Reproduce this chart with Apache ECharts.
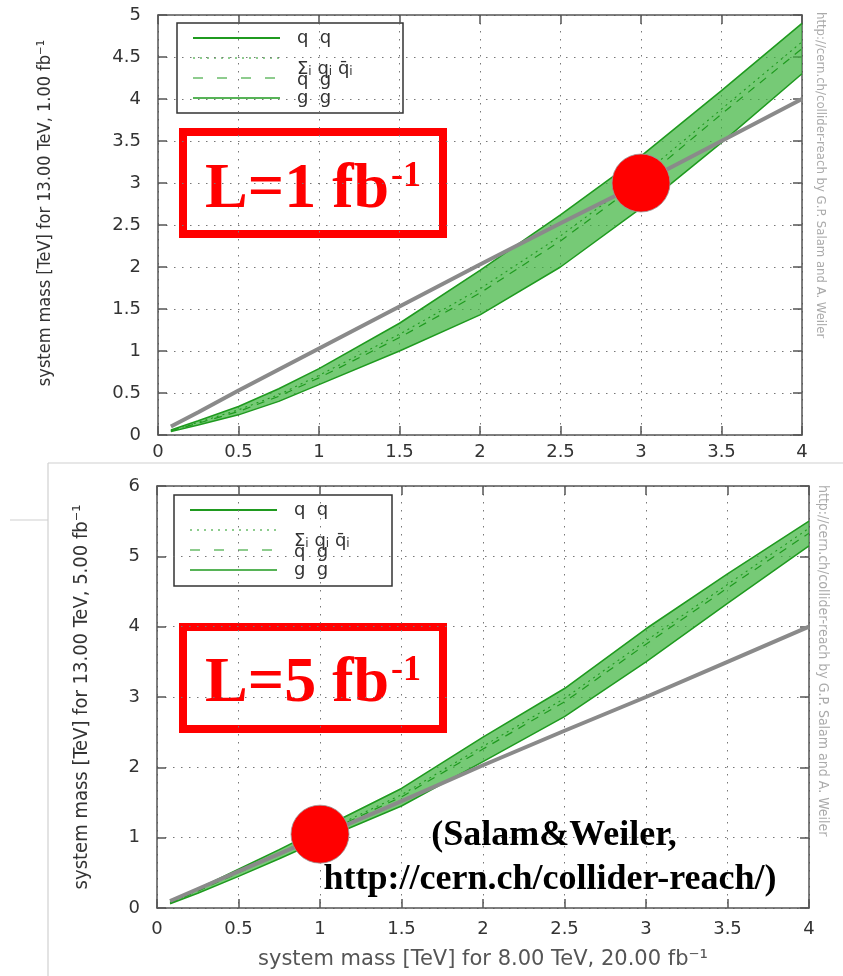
<!DOCTYPE html>
<html lang="en">
<head>
<meta charset="utf-8">
<script src="https://cdn.jsdelivr.net/npm/echarts@6/dist/echarts.min.js"></script>
<style>
  html,body{margin:0;padding:0;background:#fff}
  #main{width:843px;height:976px}
</style>
</head>
<body>
<div id="main"></div>
<script type="text/javascript">
// system mass at 8 TeV (x, TeV)
var massX = [0.08, 0.25, 0.5, 0.75, 1, 1.5, 2, 2.5, 3, 3.5, 4];

// L = 1 fb-1 at 13 TeV
var qq1    = [0.06, 0.17, 0.34, 0.55, 0.79, 1.33, 1.96, 2.62, 3.32, 4.10, 4.90];
var qqbar1 = [0.05, 0.15, 0.30, 0.48, 0.71, 1.20, 1.74, 2.37, 3.08, 3.88, 4.68];
var qg1    = [0.05, 0.14, 0.28, 0.46, 0.68, 1.16, 1.69, 2.31, 3.02, 3.82, 4.60];
var gg1    = [0.04, 0.12, 0.24, 0.40, 0.60, 1.00, 1.43, 2.00, 2.70, 3.48, 4.30];
var gray1  = [0.10, 0.27, 0.53, 0.78, 1.03, 1.53, 2.03, 2.52, 3.00, 3.50, 4.00];
var dot1   = [3, 3.0];

// L = 5 fb-1 at 13 TeV
var qq5    = [0.08, 0.27, 0.55, 0.83, 1.12, 1.70, 2.43, 3.12, 3.97, 4.75, 5.50];
var qqbar5 = [0.07, 0.25, 0.51, 0.78, 1.06, 1.61, 2.30, 2.98, 3.80, 4.60, 5.40];
var qg5    = [0.07, 0.24, 0.50, 0.77, 1.04, 1.58, 2.26, 2.93, 3.75, 4.55, 5.33];
var gg5    = [0.06, 0.21, 0.45, 0.70, 0.96, 1.45, 2.08, 2.72, 3.50, 4.33, 5.15];
var gray5  = [0.10, 0.27, 0.52, 0.77, 1.02, 1.52, 2.03, 2.52, 3.00, 3.50, 4.00];
var dot5   = [1, 1.05];

var legendNames = ['q  q', 'Σi qi q̄i', 'q  g', 'g  g'];

var GREEN = '#1f9a1f';
var TICK_FONT = '"DejaVu Sans", sans-serif';
var COND_FONT = '"DejaVu Sans Condensed", "Liberation Sans Narrow", sans-serif';
var SERIF = '"Liberation Serif", serif';

function pairs(ys) {
    return massX.map(function (x, i) { return [x, ys[i]]; });
}

function xAxes(idx, showName) {
    return [{
        type: 'value', gridIndex: idx, min: 0, max: 4, interval: 0.5,
        position: 'bottom',
        name: showName ? 'system mass [TeV] for 8.00 TeV, 20.00 fb\u207B\u00B9' : '',
        nameLocation: 'middle', nameGap: 41,
        nameTextStyle: {fontFamily: TICK_FONT, fontSize: 21, color: '#555'},
        axisLine: {show: true, onZero: false, lineStyle: {color: '#555', width: 1.5}},
        axisTick: {show: true, inside: true, length: 9, lineStyle: {color: '#555', width: 1.5}},
        axisLabel: {fontFamily: TICK_FONT, fontSize: 18, color: '#333', margin: idx === 0 ? 8 : 12},
        splitLine: {show: true, lineStyle: {color: '#777', width: 1, type: [1.5, 6.5]}}
    }, {
        type: 'value', gridIndex: idx, min: 0, max: 4, interval: 0.5,
        position: 'top',
        axisLine: {show: true, onZero: false, lineStyle: {color: '#555', width: 1.5}},
        axisTick: {show: true, inside: true, length: 9, lineStyle: {color: '#555', width: 1.5}},
        axisLabel: {show: false},
        splitLine: {show: false}
    }];
}

function yAxes(idx, max, interval, name, gap, fsize, shift) {
    return [{
        type: 'value', gridIndex: idx, min: 0, max: max, interval: interval,
        position: 'left',
        name: name, nameLocation: 'middle', nameGap: gap,
        nameTextStyle: {fontFamily: COND_FONT, fontSize: fsize, color: '#333', padding: [0, 0, 0, shift]},
        axisLine: {show: true, onZero: false, lineStyle: {color: '#555', width: 1.5}},
        axisTick: {show: true, inside: true, length: 9, lineStyle: {color: '#555', width: 1.5}},
        axisLabel: {fontFamily: TICK_FONT, fontSize: 18, color: '#333', margin: 17},
        splitLine: {show: true, lineStyle: {color: '#777', width: 1, type: [1.5, 6.5]}}
    }, {
        type: 'value', gridIndex: idx, min: 0, max: max, interval: interval,
        position: 'right',
        axisLine: {show: true, onZero: false, lineStyle: {color: '#555', width: 1.5}},
        axisTick: {show: true, inside: true, length: 9, lineStyle: {color: '#555', width: 1.5}},
        axisLabel: {show: false},
        splitLine: {show: false}
    }];
}

// green band between the q q and g g curves
function bandSeries(xi, yi, hi, lo) {
    return {
        type: 'custom', xAxisIndex: xi, yAxisIndex: yi, z: 2, silent: true,
        data: [[massX[0], lo[0]]],
        encode: {x: 0, y: 1},
        renderItem: function (params, api) {
            var pts = [];
            for (var i = 0; i < massX.length; i++) pts.push(api.coord([massX[i], hi[i]]));
            for (var j = massX.length - 1; j >= 0; j--) pts.push(api.coord([massX[j], lo[j]]));
            return {
                type: 'polygon', shape: {points: pts},
                style: {fill: 'rgba(60,180,60,0.7)', stroke: 'none'}
            };
        }
    };
}

function panelSeries(idx, qq, qqbar, qg, gg, gray, dot) {
    var xi = idx * 2, yi = idx * 2;
    var line = function (name, ys, style, z) {
        return {
            name: name, type: 'line', xAxisIndex: xi, yAxisIndex: yi,
            data: pairs(ys), showSymbol: false, symbol: 'none', z: z,
            lineStyle: style
        };
    };
    return [
        bandSeries(xi, yi, qq, gg),
        line('q q', qq, {color: GREEN, width: 1.6}, 4),
        line('Σi qi q̄i', qqbar, {color: GREEN, width: 1.1, type: [2, 4]}, 4),
        line('q g', qg, {color: GREEN, width: 1.2, type: [8, 7]}, 4),
        line('g g', gg, {color: GREEN, width: 1.5}, 4),
        line('reference', gray, {color: '#8a8a8a', width: 4}, 5),
        {
            type: 'scatter', xAxisIndex: xi, yAxisIndex: yi, data: [dot],
            symbolSize: 58, z: 6,
            itemStyle: {color: '#ff0000', borderColor: '#999', borderWidth: 0.8, opacity: 1}
        }
    ];
}

function legendBox(x0, y0, w, h) {
    var lx1 = x0 + 16, lx2 = x0 + 103, tx = x0 + 120;
    var rows = [15, 35, 55, 75];
    var styles = [
        {stroke: GREEN, lineWidth: 2},
        {stroke: GREEN, lineWidth: 1.2, lineDash: [2, 5]},
        {stroke: GREEN, lineWidth: 1.2, lineDash: [10, 14]},
        {stroke: GREEN, lineWidth: 1.5}
    ];
    var els = [{
        type: 'rect', shape: {x: x0, y: y0, width: w, height: h},
        style: {fill: '#fff', stroke: '#333', lineWidth: 1.5}
    }];
    rows.forEach(function (r, i) {
        els.push({type: 'line', shape: {x1: lx1, y1: y0 + r, x2: lx2, y2: y0 + r}, style: styles[i]});
    });
    var tstyle = function (text, yy) {
        return {
            type: 'text', x: tx, y: yy,
            style: {
                text: text, fill: '#333', font: '18px ' + TICK_FONT,
                align: 'left', verticalAlign: 'middle',
                rich: {
                    a: {fontSize: 18, fontFamily: 'DejaVu Sans', fill: '#333'},
                    b: {fontSize: 12, fontFamily: 'DejaVu Sans', fill: '#333', verticalAlign: 'bottom', padding: [6, 0, 0, 0]}
                }
            }
        };
    };
    els.push(tstyle(legendNames[0], y0 + 15));
    els.push(tstyle('{a|Σ}{b|i} {a|q}{b|i} {a|q\u0304}{b|i}', y0 + 46));
    els.push(tstyle(legendNames[2], y0 + 57));
    els.push(tstyle(legendNames[3], y0 + 75));
    return {type: 'group', z: 50, children: els};
}

function redLabel(y, digit, baseY) {
    return {
        type: 'group', z: 60, children: [
            {type: 'rect', shape: {x: 183, y: y, width: 260, height: 102},
             style: {fill: 'none', stroke: '#ff0000', lineWidth: 8}},
            {type: 'text', x: 205, y: baseY,
             style: {text: 'L=' + digit + ' fb', font: 'bold 64px ' + SERIF, fill: '#ff0000', align: 'left', verticalAlign: 'middle'}},
            {type: 'text', x: 391, y: baseY - 13,
             style: {text: '-1', font: 'bold 36px ' + SERIF, fill: '#ff0000', align: 'left', verticalAlign: 'middle'}}
        ]
    };
}

function watermark(x, y, size) {
    return {
        type: 'text', x: x, y: y, rotation: -Math.PI / 2, z: 40,
        style: {
            text: 'http://cern.ch/collider-reach by G.P. Salam and A. Weiler',
            font: size + 'px ' + COND_FONT, fill: '#aaa', align: 'left', verticalAlign: 'middle'
        }
    };
}

var chart = echarts.init(document.getElementById('main'), null, {renderer: 'canvas'});

var option = {
    animation: false,
    backgroundColor: '#fff',
    grid: [
        {left: 158, top: 15, width: 644, height: 420},
        {left: 157, top: 486, width: 652, height: 422}
    ],
    xAxis: xAxes(0, false).concat(xAxes(1, true)),
    yAxis: yAxes(0, 5, 0.5, 'system mass [TeV] for 13.00 TeV, 1.00 fb\u207B\u00B9', 104, 18, 24)
        .concat(yAxes(1, 6, 1, 'system mass [TeV] for 13.00 TeV, 5.00 fb\u207B\u00B9', 65, 20, 0)),
    series: panelSeries(0, qq1, qqbar1, qg1, gg1, gray1, dot1)
        .concat(panelSeries(1, qq5, qqbar5, qg5, gg5, gray5, dot5)),
    graphic: [
        // frame of the pasted lower screenshot
        {type: 'line', shape: {x1: 48, y1: 463, x2: 843, y2: 463}, style: {stroke: '#d0d0d0', lineWidth: 1.2}},
        {type: 'line', shape: {x1: 48, y1: 463, x2: 48, y2: 976}, style: {stroke: '#d0d0d0', lineWidth: 1.2}},
        {type: 'line', shape: {x1: 10, y1: 520, x2: 48, y2: 520}, style: {stroke: '#d0d0d0', lineWidth: 1.2}},
        legendBox(177, 23, 226, 90),
        legendBox(174, 495, 218, 91),
        redLabel(132, '1', 190),
        redLabel(627, '5', 684),
        watermark(820, 12, 13),
        watermark(823, 485, 14),
        {type: 'text', x: 554, y: 836, z: 60,
         style: {text: '(Salam&Weiler,', font: 'bold 36px ' + SERIF, fill: '#000', align: 'center', verticalAlign: 'middle'}},
        {type: 'text', x: 550, y: 880, z: 60,
         style: {text: 'http://cern.ch/collider-reach/)', font: 'bold 36px ' + SERIF, fill: '#000', align: 'center', verticalAlign: 'middle'}}
    ]
};

chart.setOption(option);
</script>
</body>
</html>
